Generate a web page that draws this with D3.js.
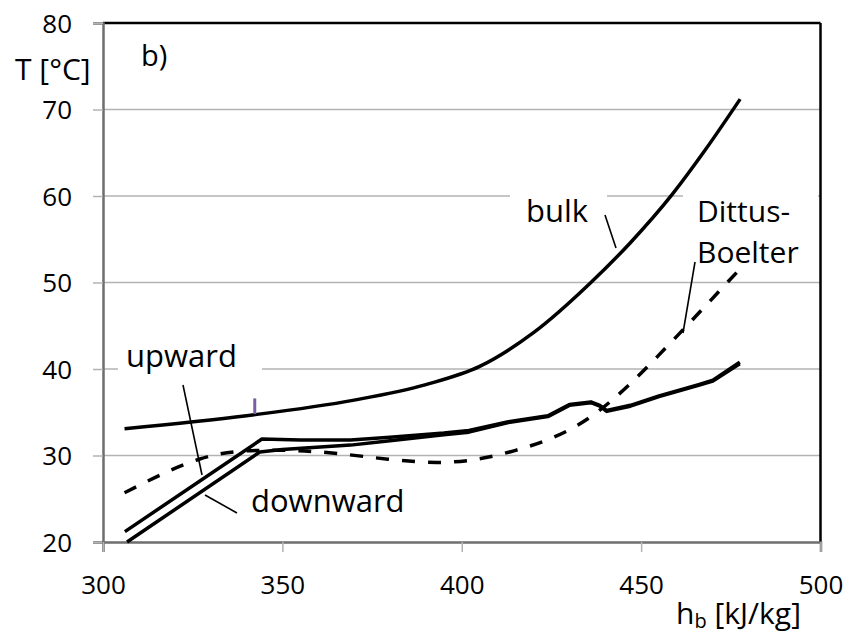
<!DOCTYPE html>
<html>
<head>
<meta charset="utf-8">
<script src="https://cdn.jsdelivr.net/npm/d3@7"></script>
<style>
  body { margin: 0; background: #fff; }
  text { font-family: "Open Sans", sans-serif; fill: #000; }
</style>
</head>
<body>
<div id="chart"></div>
<script>
// values: [h_b kJ/kg, T °C]
var bulk = [[306, 33.1], [340, 34.6], [370, 36.4], [390, 38.2], [405, 40.3], [420, 44.2],
            [436, 50.0], [447, 54.6], [458.5, 60.1], [468, 65.4], [477.6, 71.2]];
var upward = [[306.1, 21.2], [344.3, 31.9], [355, 31.8], [369, 31.8], [380, 32.1], [395, 32.6],
              [402, 32.9], [413, 33.9], [424, 34.6], [430, 35.9], [436, 36.2], [438.5, 35.8],
              [440.4, 35.2], [447, 35.8], [455, 36.9], [466, 38.2], [470, 38.7], [477.5, 40.8]];
var downward = [[306.7, 20.0], [343.7, 30.4], [350, 30.7], [369, 31.2], [380, 31.7], [395, 32.4],
                [402, 32.7], [413, 33.8], [424, 34.5], [430, 35.8], [436, 36.1], [438.5, 35.7],
                [440.4, 35.1], [447, 35.7], [455, 36.8], [466, 38.1], [470, 38.6], [477.5, 40.6]];
var dittus = [[306, 25.7], [327, 29.6], [345, 30.6], [366, 30.2], [393, 29.2], [415, 30.6],
              [435.7, 34.4], [457, 42.5], [477.4, 51.5]];
var stray = [[342.3, 34.8], [342.3, 36.6]];
var xTicks = [300, 350, 400, 450, 500];
var yTicks = [20, 30, 40, 50, 60, 70, 80];

var W = 846, H = 635;
var svg = d3.select("#chart").append("svg").attr("width", W).attr("height", H);

var x = d3.scaleLinear().domain([300, 500]).range([103, 820.5]);
var y = d3.scaleLinear().domain([20, 80]).range([542, 23]);

// gridlines
svg.append("g").selectAll("line")
   .data(yTicks.filter(function(d) { return d > 20 && d < 80; }))
   .enter().append("line")
   .attr("x1", x(300)).attr("x2", x(500))
   .attr("y1", function(d) { return y(d); }).attr("y2", function(d) { return y(d); })
   .attr("stroke", "#b3b3b3").attr("stroke-width", 1.5);

// label boxes that hide the grid
function box(x0, y0, x1, y1) {
    svg.append("rect").attr("x", x0).attr("y", y0).attr("width", x1 - x0).attr("height", y1 - y0)
       .attr("fill", "#fff");
}
box(510, 178, 607, 232);
box(683, 178, 818, 272);
box(118, 334, 262, 378);

// plot frame
svg.append("line").attr("x1", x(300)).attr("x2", x(500)).attr("y1", y(80)).attr("y2", y(80))
   .attr("stroke", "#000").attr("stroke-width", 2.5);
svg.append("line").attr("x1", x(500)).attr("x2", x(500)).attr("y1", y(80)).attr("y2", y(20))
   .attr("stroke", "#000").attr("stroke-width", 2.5);

// axes
var yAxis = svg.append("g").attr("transform", "translate(" + x(300) + ",0)")
   .call(d3.axisLeft(y).tickValues(yTicks).tickSize(10).tickPadding(20));
var xAxis = svg.append("g").attr("transform", "translate(0," + y(20) + ")")
   .call(d3.axisBottom(x).tickValues(xTicks).tickSize(10).tickPadding(20));
[yAxis, xAxis].forEach(function(a) {
    a.select(".domain").attr("stroke", "#6e6e6e").attr("stroke-width", 2.5);
    a.selectAll(".tick line").attr("stroke", "#b3b3b3").attr("stroke-width", 1.5);
    a.selectAll(".tick text").style("font-size", "26px").attr("fill", "#000");
});
yAxis.selectAll(".tick text").attr("dy", "0.36em").attr("x", -31);
xAxis.selectAll(".tick text").attr("dy", "0.85em");

// curves
var line = function(curve) {
    return d3.line().x(function(d) { return x(d[0]); }).y(function(d) { return y(d[1]); })
             .curve(curve);
};
var straight = line(d3.curveLinear);

svg.append("path").datum(bulk).attr("d", line(d3.curveMonotoneX))
   .attr("fill", "none").attr("stroke", "#000").attr("stroke-width", 3.5);
svg.append("path").datum(dittus).attr("d", line(d3.curveNatural))
   .attr("fill", "none").attr("stroke", "#000").attr("stroke-width", 3.5)
   .attr("stroke-dasharray", "13,13");
svg.append("path").datum(upward).attr("d", straight)
   .attr("fill", "none").attr("stroke", "#000").attr("stroke-width", 3.5)
   .attr("stroke-linejoin", "round");
svg.append("path").datum(downward).attr("d", straight)
   .attr("fill", "none").attr("stroke", "#000").attr("stroke-width", 3.5)
   .attr("stroke-linejoin", "round");
svg.append("path").datum(stray).attr("d", straight)
   .attr("fill", "none").attr("stroke", "#7b5ea7").attr("stroke-width", 3);

// pointer lines
function pointer(x0, y0, x1, y1) {
    svg.append("line").attr("x1", x0).attr("y1", y0).attr("x2", x1).attr("y2", y1)
       .attr("stroke", "#000").attr("stroke-width", 1.6);
}
pointer(605, 215, 616, 248);
pointer(695, 262, 683, 333);
pointer(183, 385, 202, 475);
pointer(237, 513, 205, 495);

// texts
function label(t, px, py, size, anchor) {
    return svg.append("text").attr("x", px).attr("y", py).style("font-size", size + "px")
              .attr("text-anchor", anchor || "start").text(t);
}
label("b)", 141, 66, 29);
label("T [°C]", 15, 80, 30);
label("bulk", 526, 222, 31);
label("Dittus-", 697, 222, 30);
label("Boelter", 697, 263, 30);
label("upward", 126, 367, 31);
label("downward", 251, 512, 31);
var hb = label("h", 676, 624, 30);
hb.append("tspan").attr("dy", 4).style("font-size", "20px").text("b");
hb.append("tspan").attr("dy", -4).text(" [kJ/kg]");
</script>
</body>
</html>
